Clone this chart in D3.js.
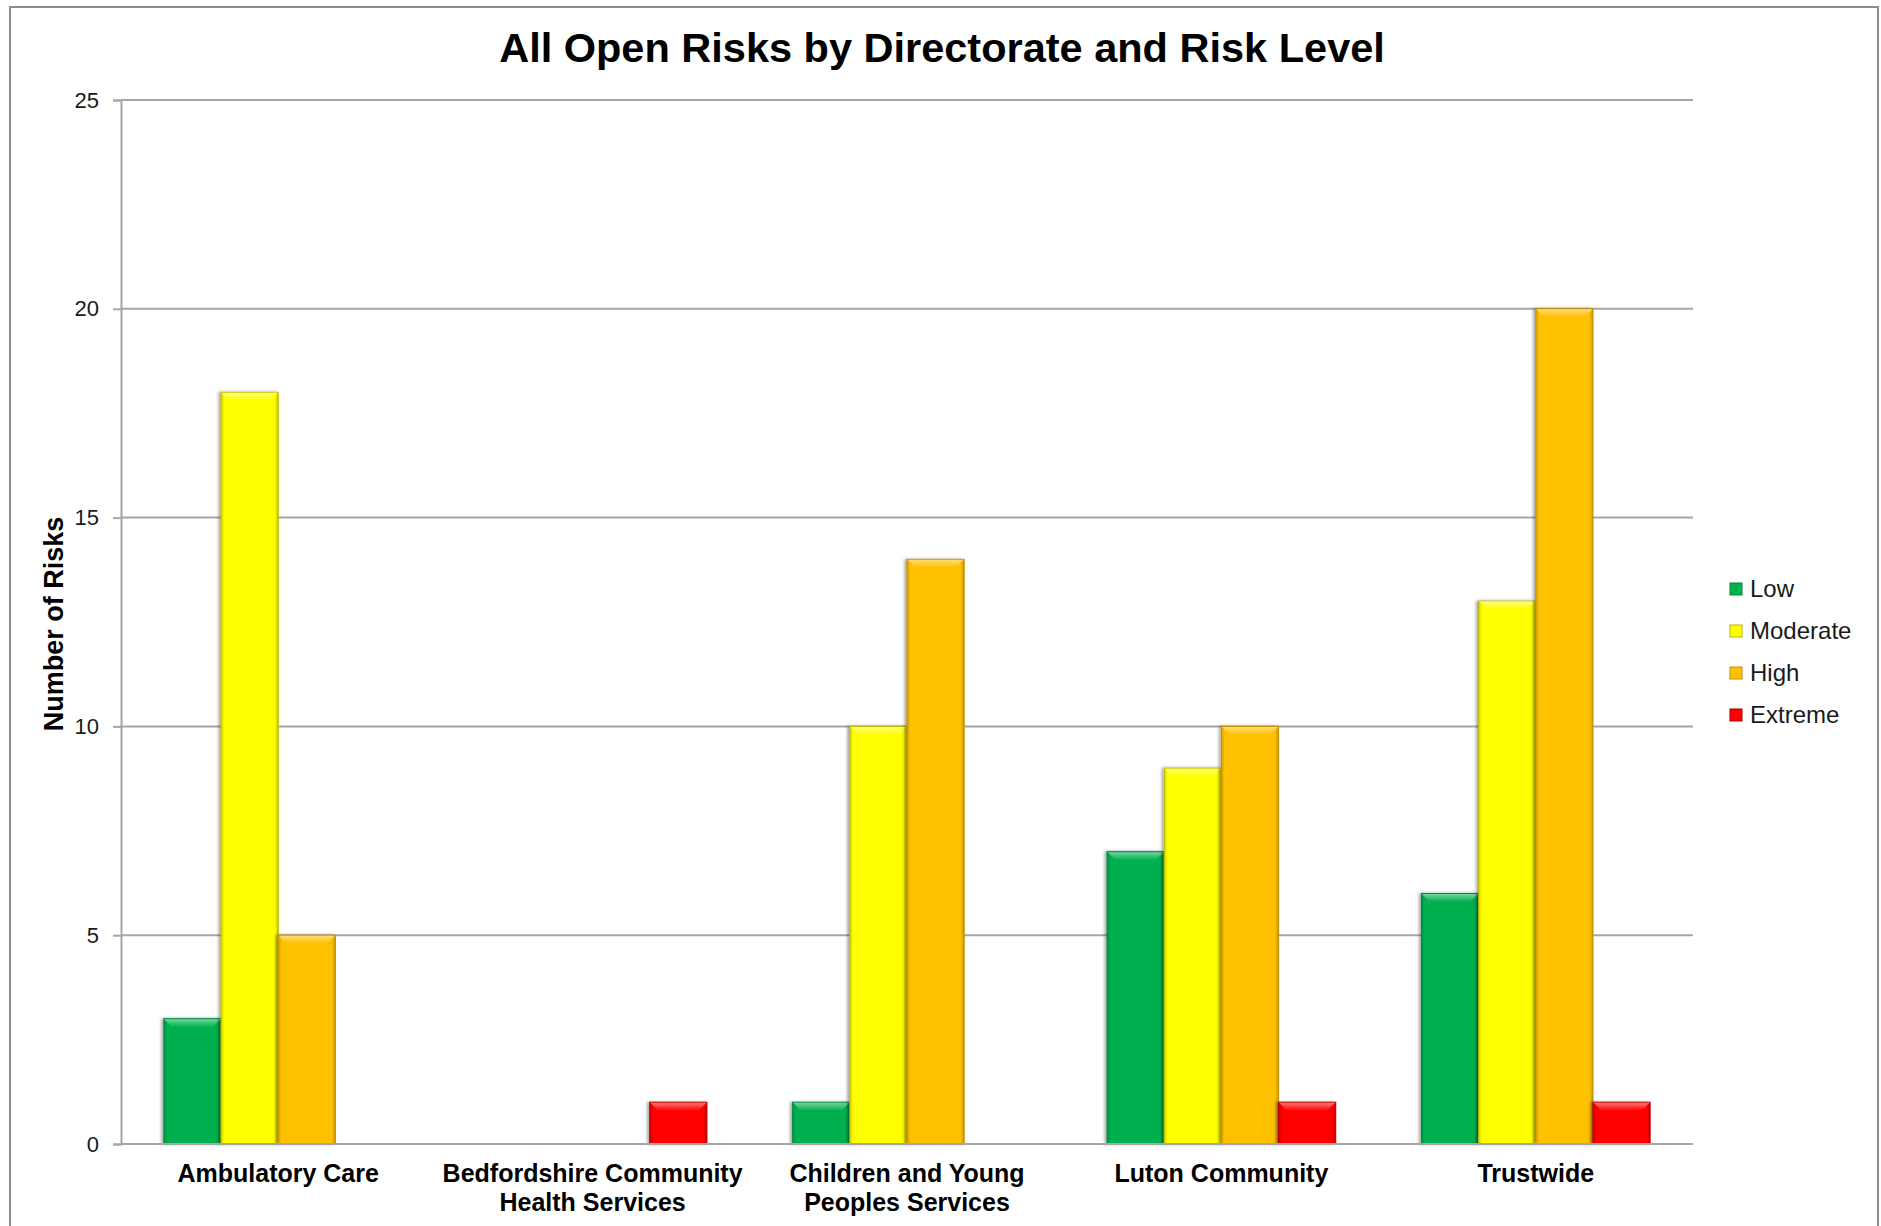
<!DOCTYPE html>
<html>
<head>
<meta charset="utf-8">
<script src="https://cdn.jsdelivr.net/npm/d3@7"></script>
<style>
  body { margin: 0; background: #fff; }
  text { font-family: "Liberation Sans", Arial, sans-serif; }
</style>
</head>
<body>
<div id="chart"></div>
<script>
// data
var categories = [
  ["Ambulatory Care"],
  ["Bedfordshire Community", "Health Services"],
  ["Children and Young", "Peoples Services"],
  ["Luton Community"],
  ["Trustwide"]
];
var seriesNames = ["Low", "Moderate", "High", "Extreme"];
var lowValues = [3, 0, 1, 7, 6];
var moderateValues = [18, 0, 10, 9, 13];
var highValues = [5, 0, 14, 10, 20];
var extremeValues = [0, 1, 0, 1, 1];
var yTicks = [0, 5, 10, 15, 20, 25];

var seriesValues = [lowValues, moderateValues, highValues, extremeValues];
var colors = ["#00b050", "#ffff00", "#ffc000", "#ff0000"];
var edgeColors = ["#038a3f", "#b8b800", "#c08f00", "#b00000"];

var svgWidth = 1881;
var svgHeight = 1226;
var margin = { top: 100, right: 188, bottom: 82, left: 121 };
var chartWidth = svgWidth - margin.left - margin.right;
var chartHeight = svgHeight - margin.top - margin.bottom;

var svg = d3.select("#chart")
  .append("svg")
  .attr("width", svgWidth)
  .attr("height", svgHeight);

var defs = svg.append("defs");

// bevel-ish gradients for each series
colors.forEach(function(c, i) {
  var g = defs.append("linearGradient")
    .attr("id", "side" + i)
    .attr("x1", 0).attr("x2", 1).attr("y1", 0).attr("y2", 0);
  g.append("stop").attr("offset", "0%").attr("stop-color", d3.color(c).darker(0.5));
  g.append("stop").attr("offset", "6%").attr("stop-color", c);
  g.append("stop").attr("offset", "94%").attr("stop-color", c);
  g.append("stop").attr("offset", "100%").attr("stop-color", d3.color(c).darker(0.7));

  var t = defs.append("linearGradient")
    .attr("id", "top" + i)
    .attr("x1", 0).attr("x2", 0).attr("y1", 0).attr("y2", 1);
  t.append("stop").attr("offset", "0%").attr("stop-color", d3.interpolateRgb(c, "#fff")(0.45));
  t.append("stop").attr("offset", "100%").attr("stop-color", c);
});

var shadow = defs.append("filter").attr("id", "shadow")
  .attr("x", "-20%").attr("y", "-5%").attr("width", "140%").attr("height", "110%");
shadow.append("feDropShadow")
  .attr("dx", -2).attr("dy", 0).attr("stdDeviation", 1.5)
  .attr("flood-color", "#000").attr("flood-opacity", 0.35);

// outer frame
svg.append("rect")
  .attr("x", 10).attr("y", 7)
  .attr("width", 1868).attr("height", 1240)
  .attr("fill", "none")
  .attr("stroke", "#8c8c8c")
  .attr("stroke-width", 2);

// title
svg.append("text")
  .attr("x", 942)
  .attr("y", 62)
  .attr("text-anchor", "middle")
  .attr("font-size", 41.5)
  .attr("font-weight", "bold")
  .text("All Open Risks by Directorate and Risk Level");

var chartGroup = svg.append("g")
  .attr("transform", `translate(${margin.left}, ${margin.top})`);

// scales
var x0 = d3.scaleBand()
  .domain(d3.range(categories.length))
  .range([0, chartWidth]);

// Excel style gap width 150%
var bw = x0.bandwidth();
var gap = bw * 0.75 / 5.5;
var x1 = d3.scaleBand()
  .domain(seriesNames)
  .range([gap, bw - gap]);

var yLinearScale = d3.scaleLinear()
  .domain([0, 25])
  .range([chartHeight, 0]);

// gridlines
chartGroup.append("g")
  .selectAll("line")
  .data(yTicks.slice(1))
  .enter()
  .append("line")
  .attr("x1", 0)
  .attr("x2", chartWidth)
  .attr("y1", d => yLinearScale(d))
  .attr("y2", d => yLinearScale(d))
  .attr("stroke", "#a6a6a6")
  .attr("stroke-width", 2);

// y axis
var leftAxis = d3.axisLeft(yLinearScale)
  .tickValues(yTicks)
  .tickSize(8)
  .tickPadding(14);

var yAxis = chartGroup.append("g").call(leftAxis);
yAxis.select(".domain").attr("stroke", "#a6a6a6").attr("stroke-width", 2);
yAxis.selectAll(".tick line").attr("stroke", "#a6a6a6").attr("stroke-width", 2);
yAxis.selectAll(".tick text")
  .attr("font-size", 22)
  .attr("fill", "#1a1a1a")
  .style("font-family", "'Liberation Sans', Arial, sans-serif");

// bars
var groups = chartGroup.selectAll(".cat")
  .data(categories)
  .enter()
  .append("g")
  .attr("class", "cat")
  .attr("transform", (d, i) => `translate(${x0(i)}, 0)`);

var barData = function(d, i) {
  return seriesNames.map(function(s, k) {
    return { series: s, k: k, value: seriesValues[k][i] };
  }).filter(b => b.value > 0);
};

var bars = groups.selectAll(".bar")
  .data(barData)
  .enter()
  .append("g")
  .attr("class", "bar");

bars.append("rect")
  .attr("x", b => x1(b.series))
  .attr("y", b => yLinearScale(b.value))
  .attr("width", x1.bandwidth())
  .attr("height", b => chartHeight - yLinearScale(b.value))
  .attr("fill", b => `url(#side${b.k})`)
  .attr("stroke", b => edgeColors[b.k])
  .attr("stroke-width", 1)
  .attr("filter", "url(#shadow)");

// top bevel
bars.append("path")
  .attr("d", function(b) {
    var xl = x1(b.series) + 0.5;
    var xr = xl + x1.bandwidth() - 1;
    var yt = yLinearScale(b.value) + 0.5;
    var bev = 8;
    return `M${xl},${yt} L${xr},${yt} L${xr - bev},${yt + bev} L${xl + bev},${yt + bev} Z`;
  })
  .attr("fill", b => `url(#top${b.k})`);

// x axis baseline
chartGroup.append("line")
  .attr("x1", 0)
  .attr("x2", chartWidth)
  .attr("y1", chartHeight)
  .attr("y2", chartHeight)
  .attr("stroke", "#a6a6a6")
  .attr("stroke-width", 2);

// x labels
var xLabels = chartGroup.append("g")
  .selectAll("text")
  .data(categories)
  .enter()
  .append("text")
  .attr("x", (d, i) => x0(i) + bw / 2)
  .attr("y", chartHeight + 38)
  .attr("text-anchor", "middle")
  .attr("font-size", 25)
  .attr("font-weight", "bold");

xLabels.selectAll("tspan")
  .data(d => d)
  .enter()
  .append("tspan")
  .attr("x", function() { return d3.select(this.parentNode).attr("x"); })
  .attr("dy", (d, j) => j === 0 ? 0 : 29)
  .text(d => d);

// y axis title
svg.append("text")
  .attr("transform", "rotate(-90)")
  .attr("x", -624)
  .attr("y", 63)
  .attr("text-anchor", "middle")
  .attr("font-size", 27)
  .attr("font-weight", "bold")
  .text("Number of Risks");

// legend
var legend = svg.append("g")
  .attr("transform", "translate(1730, 589)");

var items = legend.selectAll("g")
  .data(seriesNames)
  .enter()
  .append("g")
  .attr("transform", (d, i) => `translate(0, ${i * 42})`);

items.append("rect")
  .attr("x", 0)
  .attr("y", -6)
  .attr("width", 12)
  .attr("height", 12)
  .attr("fill", (d, i) => colors[i])
  .attr("stroke", (d, i) => edgeColors[i])
  .attr("stroke-width", 1);

items.append("text")
  .attr("x", 20)
  .attr("y", 0)
  .attr("dy", "0.35em")
  .attr("font-size", 24)
  .attr("fill", "#1a1a1a")
  .text(d => d);
</script>
</body>
</html>
